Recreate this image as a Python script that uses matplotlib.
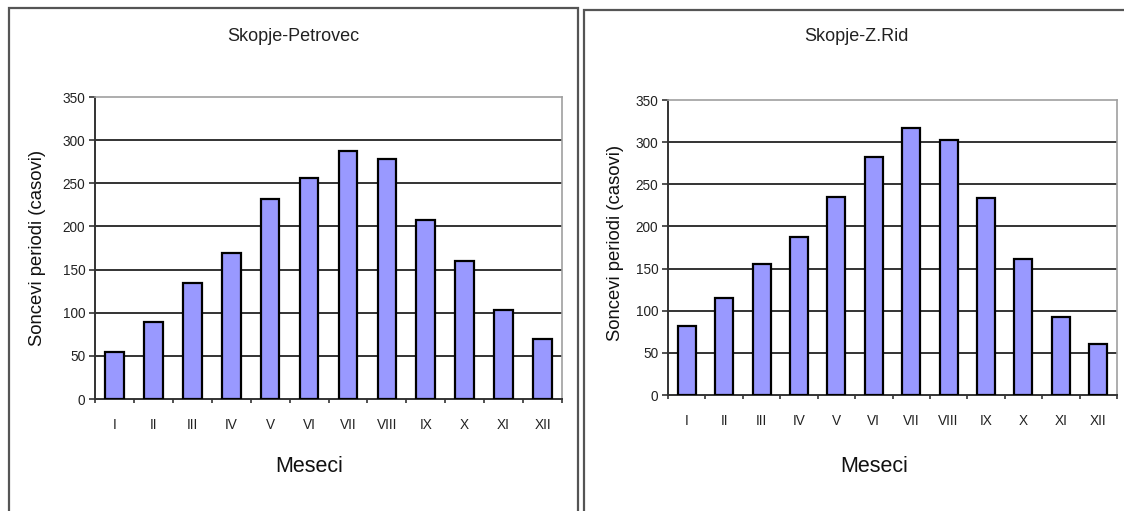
import matplotlib
matplotlib.use("Agg")
import matplotlib.pyplot as plt
from matplotlib.patches import Rectangle
import numpy as np

months = ["I", "II", "III", "IV", "V", "VI", "VII", "VIII", "IX", "X", "XI", "XII"]
petrovec = [55, 89, 135, 169, 232, 256, 287, 278, 207, 160, 103, 70]
zrid = [82, 115, 156, 187, 235, 282, 317, 303, 234, 161, 92, 61]
titles = ["Skopje-Petrovec", "Skopje-Z.Rid"]
ylabel = "Soncevi periodi (casovi)"
xlabel = "Meseci"
yticks = [0, 50, 100, 150, 200, 250, 300, 350]

plt.rcParams['font.family'] = ['Liberation Sans', 'DejaVu Sans']

W, H = 1124, 511
fig = plt.figure(figsize=(W / 100, H / 100), dpi=100)
fig.patch.set_facecolor('white')

def px_rect(x0, y0, x1, y1):
    return [x0 / W, 1 - y1 / H, (x1 - x0) / W, (y1 - y0) / H]

# panel borders
for (x0, y0, x1, y1) in [(9, 8, 578, 520), (584, 10, 1130, 520)]:
    fig.add_artist(Rectangle((x0 / W, 1 - y1 / H), (x1 - x0) / W, (y1 - y0) / H,
                             transform=fig.transFigure, fill=False,
                             edgecolor='#555555', lw=1.6))

specs = [
    dict(rect=px_rect(95, 97, 562, 399), data=petrovec, title=titles[0],
         tpos=(0.424, 1.199), xl=(0.458, -0.225), yl=(-0.124, 0.5)),
    dict(rect=px_rect(668, 100, 1117, 395), data=zrid, title=titles[1],
         tpos=(0.419, 1.214), xl=(0.459, -0.244), yl=(-0.118, 0.515)),
]

for s in specs:
    ax = fig.add_axes(s['rect'])
    x = np.arange(len(months))
    ax.bar(x, s['data'], width=0.48, color='#9999ff', edgecolor='black',
           linewidth=1.6, zorder=3)
    ax.set_xlim(-0.5, len(months) - 0.5)
    ax.set_ylim(0, 350)
    ax.set_yticks(yticks)
    ax.set_yticklabels([str(v) for v in yticks], fontsize=9.8, color='#222222')
    ax.set_xticks(x)
    ax.set_xticklabels(months, fontsize=9.8, color='#222222')
    ax.set_xticks(np.arange(-0.5, len(months), 1.0), minor=True)
    ax.tick_params(axis='x', which='major', length=0, pad=14)
    ax.tick_params(axis='x', which='minor', length=3, width=1.2, direction='out', color='#333333')
    ax.tick_params(axis='y', length=4, width=1.2, direction='out', color='#333333', pad=3)
    for v in yticks[1:-1]:
        ax.axhline(v, color='#333333', lw=1.4, zorder=1)
    ax.spines['top'].set_color('#a0a0a0')
    ax.spines['right'].set_color('#a0a0a0')
    ax.spines['top'].set_linewidth(1.2)
    ax.spines['right'].set_linewidth(1.2)
    ax.spines['left'].set_color('#333333')
    ax.spines['bottom'].set_color('#333333')
    ax.spines['left'].set_linewidth(1.4)
    ax.spines['bottom'].set_linewidth(1.4)
    ax.text(s['tpos'][0], s['tpos'][1], s['title'], transform=ax.transAxes,
            ha='center', va='center', fontsize=13, color='#222222')
    ax.set_xlabel(xlabel, fontsize=15.5, color='#111111')
    ax.xaxis.set_label_coords(*s['xl'])
    ax.xaxis.label.set_va('center')
    ax.set_ylabel(ylabel, fontsize=13.3, color='#111111')
    ax.yaxis.set_label_coords(*s['yl'])
    ax.yaxis.label.set_va('center')

fig.savefig('out.png', dpi=100)
